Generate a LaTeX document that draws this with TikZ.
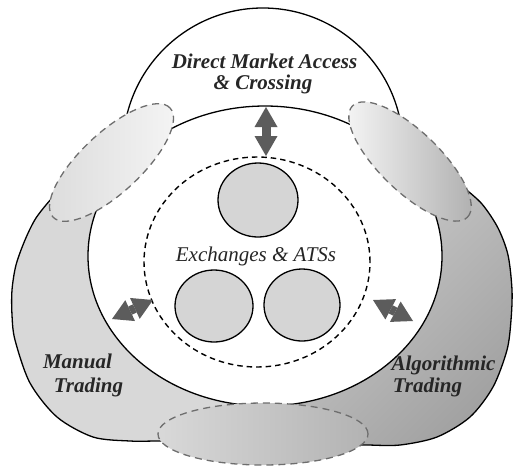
\documentclass[tikz,border=0pt]{standalone}
\usepackage{fontspec}
\setmainfont{Liberation Serif}
\usetikzlibrary{arrows.meta}

\definecolor{manualgrey}{HTML}{D8D8D8}
\definecolor{algolight}{HTML}{CFCFCF}
\definecolor{algodark}{HTML}{A2A2A2}
\definecolor{poolgrey}{HTML}{D5D5D5}
\definecolor{linkgrey}{HTML}{5C5C5C}
\definecolor{dashgrey}{HTML}{6E6E6E}

\begin{document}
\begin{tikzpicture}[x=1pt,y=1pt,
  outline/.style={draw=black,line width=1.3pt},
  zonedash/.style={draw=dashgrey,line width=1.3pt,dash pattern=on 7pt off 5pt},
  pooldash/.style={draw=black,line width=1.4pt,dash pattern=on 5.5pt off 4pt},
  poolcircle/.style={draw=black,line width=1.3pt,fill=poolgrey},
  link/.style={draw=linkgrey,line width=9pt,
    {Triangle[length=20pt,width=23pt,line width=0pt]}-{Triangle[length=20pt,width=23pt,line width=0pt]}},
  zonetext/.style={font=\fontsize{21}{24}\selectfont\bfseries\itshape,inner sep=0pt,anchor=base,text=black!85},
  pooltext/.style={font=\fontsize{21}{24}\selectfont\itshape,inner sep=0pt,anchor=base,text=black!85},
]
\useasboundingbox (0,0) rectangle (513,-467);

% Manual Trading lobe (left)
\fill[manualgrey] plot[smooth] coordinates {(70,-182) (53,-197) (36,-218) (25,-240) (16,-265) (12,-290) (12,-315) (15,-340) (30,-383) (57,-417) (93,-437) (130,-441) (157,-441) (190,-441)}
  -- (263,-434) -- (265,-256) -- cycle;

% Algorithmic Trading lobe (right)
\shade[top color=algolight, bottom color=algodark, shading angle=45]
  plot[smooth] coordinates {(452,-178) (463,-187) (482,-204) (498,-228) (508,-255) (512,-290) (511,-320) (507,-350) (493,-387) (470,-417) (437,-437) (400,-445) (368,-445) (335,-444)}
  -- (263,-434) -- (265,-256) -- cycle;

% outer borders
\draw[outline] (123.5,-135.8) arc[start angle=175, end angle=5, radius=140];
\draw[outline] plot[smooth] coordinates {(70,-182) (53,-197) (36,-218) (25,-240) (16,-265) (12,-290) (12,-315) (15,-340) (30,-383) (57,-417) (93,-437) (130,-441) (157,-441) (190,-441)};
\draw[outline] plot[smooth] coordinates {(452,-178) (463,-187) (482,-204) (498,-228) (508,-255) (512,-290) (511,-320) (507,-350) (493,-387) (470,-417) (437,-437) (400,-445) (368,-445) (335,-444)};

% market core
\draw[outline, fill=white] (265,-256) ellipse[x radius=177, y radius=150];
\draw[pooldash] (257,-262) ellipse[x radius=113, y radius=105];

\draw[poolcircle] (258,-200) ellipse[x radius=40, y radius=37];
\draw[poolcircle] (214,-306) ellipse[x radius=39, y radius=36];
\draw[poolcircle] (302,-305) ellipse[x radius=38, y radius=36];

\node[pooltext] (pools) at (256,-261) {Exchanges \& ATSs};

% labels of the three access routes
\node[zonetext] (dma1) at (264.5,-68) {Direct Market Access};
\node[zonetext] (dma2) at (263,-89) {\& Crossing};
\node[zonetext] (man1) at (77.5,-368) {Manual};
\node[zonetext] (man2) at (88.5,-392) {Trading};
\node[zonetext] (alg1) at (443.5,-370) {Algorithmic};
\node[zonetext] (alg2) at (427.5,-392) {Trading};

% order flow links
\coordinate (dmaEnd) at (266,-107);
\coordinate (dmaPool) at (266,-156);
\coordinate (manEnd) at (112,-319);
\coordinate (manPool) at (153,-300);
\coordinate (algEnd) at (413,-321);
\coordinate (algPool) at (373,-300);
\draw[link] (dmaEnd) -- (dmaPool);
\draw[link] (manEnd) -- (manPool);
\draw[link] (algEnd) -- (algPool);

% overlap zones between routes
\shade[rotate around={43:(111.5,-162.5)}, left color=black!14, right color=black!4]
  (111.5,-162.5) ellipse[x radius=80, y radius=30];
\draw[zonedash, rotate around={43:(111.5,-162.5)}]
  (111.5,-162.5) ellipse[x radius=80, y radius=30];

\shade[rotate around={-44:(410,-161.5)}, left color=black!3, right color=black!32]
  (410,-161.5) ellipse[x radius=80, y radius=30];
\draw[zonedash, rotate around={-44:(410,-161.5)}]
  (410,-161.5) ellipse[x radius=80, y radius=30];

\shade[left color=black!15, right color=black!30]
  (263,-434) ellipse[x radius=105, y radius=31];
\draw[zonedash] (263,-434) ellipse[x radius=105, y radius=31];
\end{tikzpicture}
\end{document}
